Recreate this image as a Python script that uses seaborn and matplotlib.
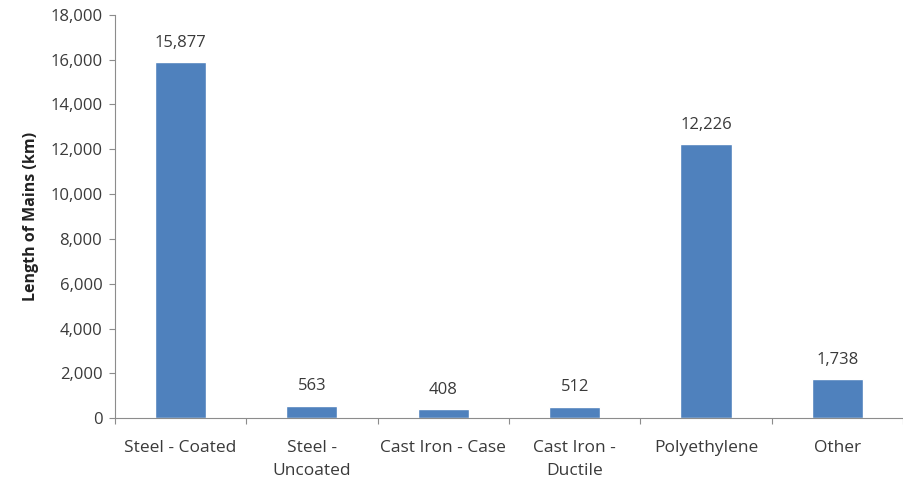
import matplotlib
matplotlib.use("Agg")
import matplotlib.pyplot as plt
import seaborn as sns
import pandas as pd
from matplotlib.ticker import FuncFormatter, FixedLocator

categories = ["Steel - Coated", "Steel -\nUncoated", "Cast Iron - Case",
              "Cast Iron -\nDuctile", "Polyethylene", "Other"]
values = [15877, 563, 408, 512, 12226, 1738]
y_ticks = [0, 2000, 4000, 6000, 8000, 10000, 12000, 14000, 16000, 18000]

sns.set_theme(style="white")
plt.rcParams['font.family'] = ['Open Sans', 'DejaVu Sans']

df = pd.DataFrame({"cat": categories, "val": values})

fig = plt.figure(figsize=(9.04, 4.79), dpi=100)
ax = fig.add_axes([0.127, 0.127, 0.872, 0.842])
sns.barplot(data=df, x="cat", y="val", color="#4F81BD", saturation=1,
            width=0.39, ax=ax)

text_color = "#3a3a3a"
axis_color = "#8c8c8c"
fs = 12
ax.set_ylim(0, 18000)
ax.set_xlim(-0.5, len(categories) - 0.5)
ax.yaxis.set_major_locator(FixedLocator(y_ticks))
ax.yaxis.set_major_formatter(FuncFormatter(lambda v, p: f"{int(v):,}"))
ax.tick_params(axis="y", which="major", length=4, color=axis_color,
               labelsize=fs, labelcolor=text_color, pad=5, left=True, width=0.8)
ax.tick_params(axis="x", which="major", length=0, labelsize=12.5,
               labelcolor=text_color, pad=16)
ax.set_xticks([i - 0.5 for i in range(len(categories) + 1)], minor=True)
ax.tick_params(axis="x", which="minor", length=4, color=axis_color, bottom=True, width=0.8)
for lbl in ax.get_xticklabels():
    lbl.set_linespacing(1.55)

for s in ["top", "right"]:
    ax.spines[s].set_visible(False)
for s in ["left", "bottom"]:
    ax.spines[s].set_color(axis_color)
    ax.spines[s].set_linewidth(0.8)

ax.set_xlabel("")
ax.set_ylabel("Length of Mains (km)", fontsize=11.5, fontweight="bold",
              color="#222222", labelpad=8)

for i, v in enumerate(values):
    ax.text(i, v + 500, f"{v:,}", ha="center", va="bottom",
            fontsize=fs, color=text_color)

fig.savefig("out.png", dpi=100)
